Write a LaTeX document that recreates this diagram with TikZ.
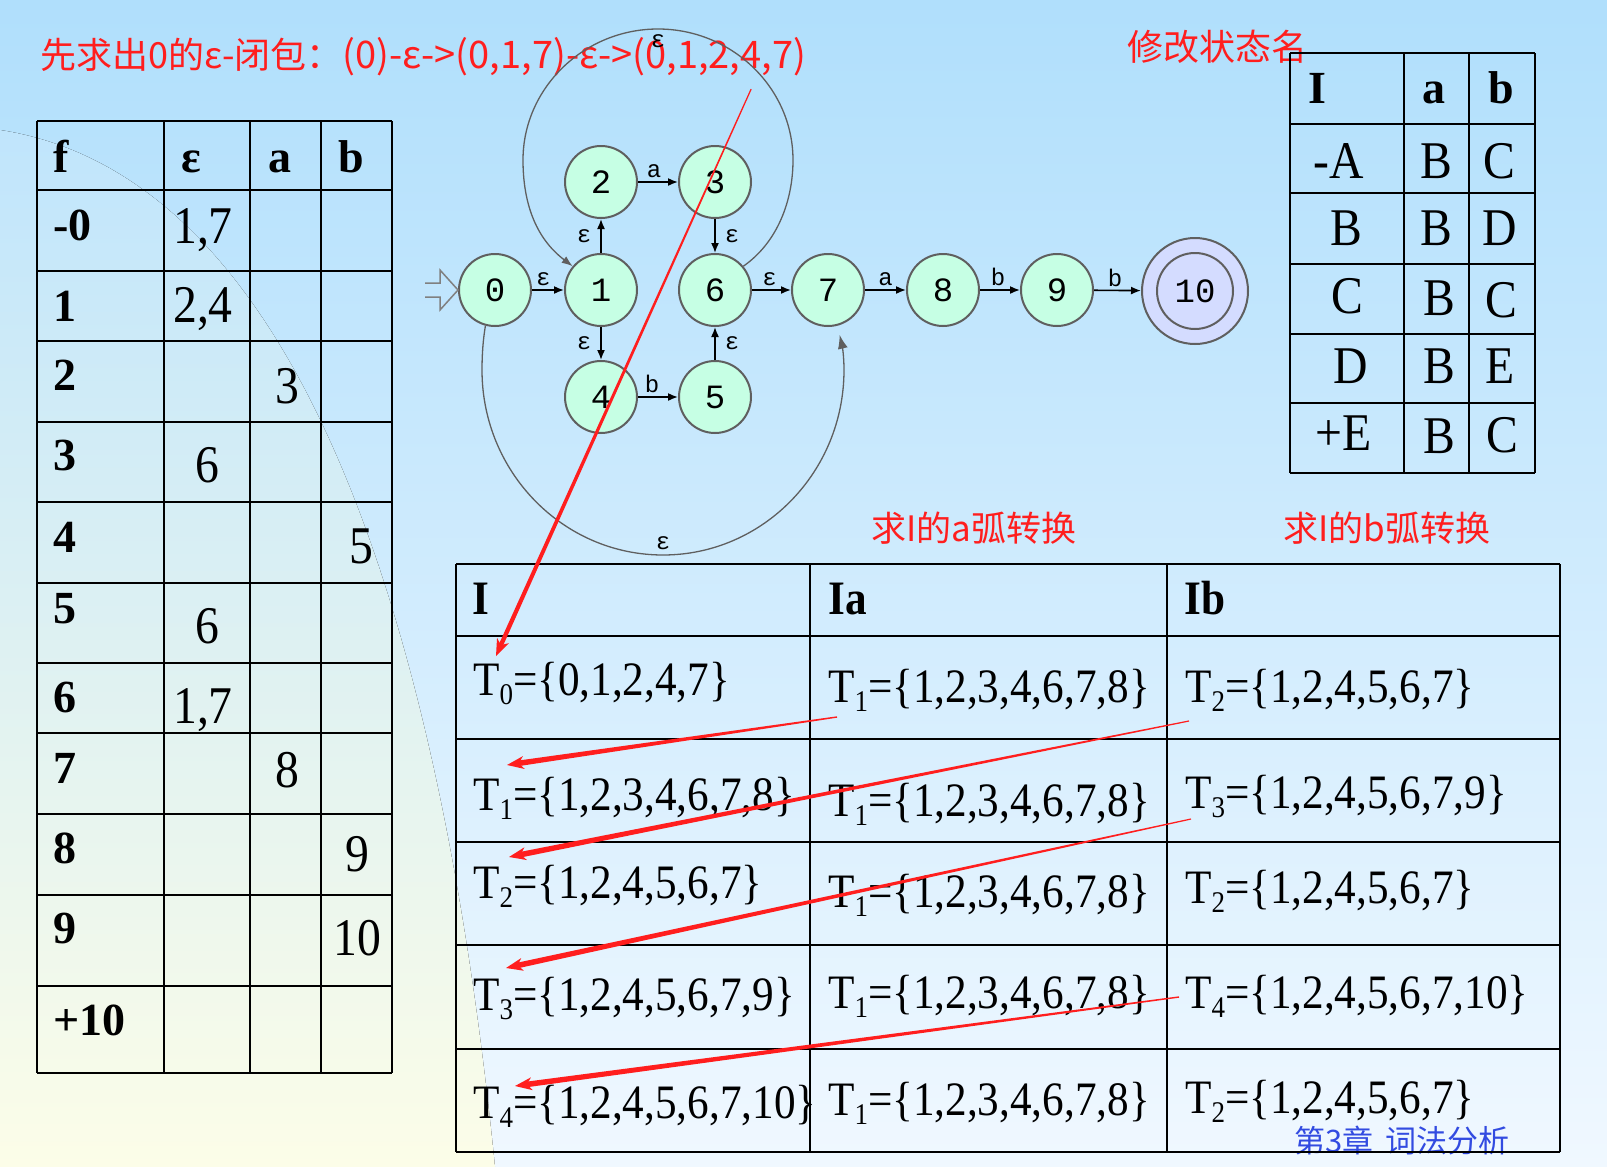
\documentclass[tikz,border=0pt]{standalone}
\usepackage{fontspec}
\setmainfont{Liberation Serif}
\newfontfamily\schmal[FakeStretch=0.9]{Liberation Serif}
\newfontfamily\cjk{Noto Sans CJK SC}
\newfontfamily\jflap{Liberation Mono}
\usetikzlibrary{arrows.meta,calc}

\definecolor{himmel}{RGB}{176,223,252}
\definecolor{himmelmitte}{RGB}{208,236,252}
\definecolor{himmelunten}{RGB}{240,248,255}
\definecolor{wischoben}{RGB}{192,229,252}
\definecolor{wischunten}{RGB}{252,253,232}
\definecolor{zfill}{RGB}{198,255,228}
\definecolor{zrand}{RGB}{95,95,95}
\definecolor{endfill}{RGB}{212,220,255}
\definecolor{rot}{RGB}{255,30,30}
\definecolor{blau}{RGB}{50,75,225}

\tikzset{
  zustand/.style={circle,draw=zrand,line width=2pt,fill=zfill,minimum size=72pt,inner sep=0pt,
    font=\jflap\fontsize{34}{34}\selectfont},
  uebergang/.style={line width=1.6pt,-{Latex[length=10pt,width=8pt]}},
  bogen/.style={line width=1.3pt,draw=zrand},
  marke/.style={font=\jflap\fontsize{24}{24}\selectfont,inner sep=1pt},
  rottext/.style={anchor=west,inner sep=0pt,text=rot,font=\cjk\fontsize{35}{35}\selectfont},
  kopf/.style={anchor=base west,inner sep=0pt,font=\bfseries\fontsize{46}{46}\selectfont},
  wert/.style={anchor=base west,inner sep=0pt,font=\schmal\fontsize{53}{53}\selectfont},
  menge/.style={anchor=base west,inner sep=0pt,font=\schmal\fontsize{48}{48}\selectfont},
  mkopf/.style={anchor=base west,inner sep=0pt,font=\schmal\bfseries\fontsize{48}{48}\selectfont},
  gitter/.style={line width=2.6pt},
  duenn/.style={line width=1.5pt}
}

% T mit tiefgestellter Nummer
\newcommand\Tn[1]{T\raisebox{-9pt}{\fontsize{30}{30}\selectfont#1}}
% roter Pfeil, duenn -> dick
\newcommand\rotpfeil[4]{%
  \coordinate (rpa) at ($(#2)!10pt!(#1)$);
  \coordinate (rpb) at ($(#2)!17pt!(#1)$);
  \fill[rot] ($(#1)!#3!90:(#2)$) -- ($(rpa)!#4!-90:(#1)$) -- ($(rpa)!#4!90:(#1)$) -- ($(#1)!#3!-90:(#2)$) -- cycle;
  \fill[rot] (#2) -- ($(rpb)!6.5pt!90:(#2)$) -- ($(#2)!12pt!(#1)$) -- ($(rpb)!6.5pt!-90:(#2)$) -- cycle;
}

\begin{document}
\begin{tikzpicture}[x=1pt,y=-1pt]
        \useasboundingbox (0,0) rectangle (1607,1167);
        % Hintergrund
        \fill[top color=himmel,middle color=himmelmitte,bottom color=himmelunten] (0,0) rectangle (1607,1167);
        \fill[top color=wischoben,bottom color=wischunten] (0,130) .. controls (260,170) and (430,520) .. (495,1167) -- (0,1167) -- cycle;

        % Ueberschriften
        \node[rottext,font=\cjk\fontsize{36}{36}\selectfont] (titel) at (40,57)
              {先求出0的ε-闭包：\fontsize{38}{38}\selectfont(0)-ε->(0,1,7)-ε->(0,1,2,4,7)};
        \node[rottext,font=\cjk\fontsize{36}{36}\selectfont] (umbenennen) at (1127,47) {修改状态名};
        \node[rottext] (abogen) at (871,528) {求I的a弧转换};
        \node[rottext] (bbogen) at (1283,528) {求I的b弧转换};
        \node[anchor=west,inner sep=0pt,text=blau,font=\cjk\fontsize{31}{31}\selectfont] (kapitel) at (1294,1141) {第3章\hspace{12pt}词法分析};

        % Tabelle links: Gitter
        \draw[gitter] (37,121) -- (392,121) (37,190) -- (392,190) (37,271) -- (392,271)
                      (37,341) -- (392,341) (37,422) -- (392,422) (37,502) -- (392,502)
                      (37,583) -- (392,583) (37,663) -- (392,663) (37,733) -- (392,733)
                      (37,814) -- (392,814) (37,895) -- (392,895) (37,986) -- (392,986)
                      (37,1073) -- (392,1073);
        \draw[gitter] (37,121) -- (37,1073) (164,121) -- (164,1073) (250,121) -- (250,1073)
                      (321,121) -- (321,1073) (392,121) -- (392,1073);
        % Tabelle links: Kopf und Zeilen
        \draw (53,172) node[kopf] (lf) {f};
        \draw (181,172) node[kopf] (leps) {ε};
        \draw (268,172) node[kopf] (la) {a};
        \draw (338,172) node[kopf] (lb) {b};
        \draw (53,240) node[kopf] (z0) {-0};
        \draw (53,321) node[kopf] (z1) {1};
        \draw (53,390) node[kopf] (z2) {2};
        \draw (53,470) node[kopf] (z3) {3};
        \draw (53,552) node[kopf] (z4) {4};
        \draw (53,623) node[kopf] (z5) {5};
        \draw (53,712) node[kopf] (z6) {6};
        \draw (53,783) node[kopf] (z7) {7};
        \draw (53,863) node[kopf] (z8) {8};
        \draw (53,943) node[kopf] (z9) {9};
        \draw (53,1035) node[kopf] (z10) {+10};
        \draw (173,243) node[wert] (w0e) {1,7};
        \draw (173,322) node[wert] (w1e) {2,4};
        \draw (275,403) node[wert] (w2a) {3};
        \draw (195,482) node[wert] (w3e) {6};
        \draw (349,563) node[wert] (w4b) {5};
        \draw (195,643) node[wert] (w5e) {6};
        \draw (173,723) node[wert] (w6e) {1,7};
        \draw (275,787) node[wert] (w7a) {8};
        \draw (345,871) node[wert] (w8b) {9};
        \draw (333,955) node[wert] (w9b) {10};

        % Tabelle rechts
        \draw[gitter] (1290,53) -- (1535,53) (1290,124) -- (1535,124) (1290,193) -- (1535,193)
                      (1290,264) -- (1535,264) (1290,334) -- (1535,334) (1290,403) -- (1535,403)
                      (1290,473) -- (1535,473);
        \draw[gitter] (1290,53) -- (1290,473) (1404,53) -- (1404,473) (1469,53) -- (1469,473)
                      (1535,53) -- (1535,473);
        \draw (1308,103) node[kopf] (ri) {I};
        \draw (1422,103) node[kopf] (ra) {a};
        \draw (1488,103) node[kopf] (rb) {b};
        \draw (1313,178) node[wert] (rA) {-A};
        \draw (1420,178) node[wert] (rAa) {B};
        \draw (1483,178) node[wert] (rAb) {C};
        \draw (1330,245) node[wert] (rB) {B};
        \draw (1420,245) node[wert] (rBa) {B};
        \draw (1482,245) node[wert] (rBb) {D};
        \draw (1331,313) node[wert] (rC) {C};
        \draw (1423,315) node[wert] (rCa) {B};
        \draw (1485,317) node[wert] (rCb) {C};
        \draw (1333,383) node[wert] (rD) {D};
        \draw (1423,383) node[wert] (rDa) {B};
        \draw (1485,383) node[wert] (rDb) {E};
        \draw (1315,450) node[wert] (rE) {+E};
        \draw (1423,453) node[wert] (rEa) {B};
        \draw (1486,452) node[wert] (rEb) {C};

        % Tabelle unten
        \draw[gitter] (456,564) -- (1560,564) (456,636) -- (1560,636) (456,739) -- (1560,739)
                      (456,842) -- (1560,842) (456,945) -- (1560,945) (456,1049) -- (1560,1049)
                      (456,1152) -- (1560,1152);
        \draw[line width=2.2pt] (456,564) -- (456,1152) (1560,564) -- (1560,1152);
        \draw[duenn] (810,564) -- (810,1152) (1167,564) -- (1167,1152);
        \draw (472,614) node[mkopf] (ki) {I};
        \draw (828,614) node[mkopf] (kia) {Ia};
        \draw (1184,614) node[mkopf] (kib) {Ib};
        \draw (473,695) node[menge] (c11) {\Tn{0}=\{0,1,2,4,7\}};
        \draw (828,702) node[menge] (c12) {\Tn{1}=\{1,2,3,4,6,7,8\}};
        \draw (1185,702) node[menge] (c13) {\Tn{2}=\{1,2,4,5,6,7\}};
        \draw (473,810) node[menge] (c21) {\Tn{1}=\{1,2,3,4,6,7,8\}};
        \draw (828,816) node[menge] (c22) {\Tn{1}=\{1,2,3,4,6,7,8\}};
        \draw (1185,808) node[menge] (c23) {\Tn{3}=\{1,2,4,5,6,7,9\}};
        \draw (473,898) node[menge] (c31) {\Tn{2}=\{1,2,4,5,6,7\}};
        \draw (828,907) node[menge] (c32) {\Tn{1}=\{1,2,3,4,6,7,8\}};
        \draw (1185,903) node[menge] (c33) {\Tn{2}=\{1,2,4,5,6,7\}};
        \draw (473,1010) node[menge] (c41) {\Tn{3}=\{1,2,4,5,6,7,9\}};
        \draw (828,1008) node[menge] (c42) {\Tn{1}=\{1,2,3,4,6,7,8\}};
        \draw (1185,1008) node[menge] (c43) {\Tn{4}=\{1,2,4,5,6,7,10\}};
        \draw (473,1118) node[menge] (c51) {\Tn{4}=\{1,2,4,5,6,7,10\}};
        \draw (828,1115) node[menge] (c52) {\Tn{1}=\{1,2,3,4,6,7,8\}};
        \draw (1185,1113) node[menge] (c53) {\Tn{2}=\{1,2,4,5,6,7\}};

        % Automat
        \draw (495,290) node[zustand] (s0) {0};
        \draw (601,290) node[zustand] (s1) {1};
        \draw (601,182) node[zustand] (s2) {2};
        \draw (715,182) node[zustand] (s3) {3};
        \draw (715,290) node[zustand] (s6) {6};
        \draw (601,397) node[zustand] (s4) {4};
        \draw (715,397) node[zustand] (s5) {5};
        \draw (828,290) node[zustand] (s7) {7};
        \draw (943,290) node[zustand] (s8) {8};
        \draw (1057,290) node[zustand] (s9) {9};
        \draw (1195,291) node[zustand,fill=endfill,minimum size=106pt] (s10) {10};
        \draw[line width=2pt,draw=zrand] (s10.center) circle (38);
        % Startpfeil
        \draw[line width=1.5pt,draw=gray] (425,283) -- (440,283) -- (440,270) -- (458,290) -- (440,310) -- (440,297) -- (425,297);
        % Kanten
        \draw[uebergang] (s0) -- node[marke,above=2pt,pos=0.35] {ε} (s1);
        \draw[uebergang] (s1) -- node[marke,left=8pt] {ε} (s2);
        \draw[uebergang] (s2) -- node[marke,above=2pt,pos=0.4] {a} (s3);
        \draw[uebergang] (s3) -- node[marke,right=8pt] {ε} (s6);
        \draw[uebergang] (s1) -- node[marke,left=8pt] {ε} (s4);
        \draw[uebergang] (s4) -- node[marke,above=2pt,pos=0.35] {b} (s5);
        \draw[uebergang] (s5) -- node[marke,right=8pt] {ε} (s6);
        \draw[uebergang] (s6) -- node[marke,above=2pt,pos=0.45] {ε} (s7);
        \draw[uebergang] (s7) -- node[marke,above=2pt,pos=0.5] {a} (s8);
        \draw[uebergang] (s8) -- node[marke,above=2pt,pos=0.45] {b} (s9);
        \draw[uebergang] (s9) -- node[marke,above=2pt,pos=0.45] {b} (s10);
        % Schleife oben 6 -> 1
        \draw[bogen,-{Latex[length=11pt,width=8pt]}] (s6.40) .. controls (778,242) and (793,200) .. (793,160)
              .. controls (793,88) and (732,29) .. (658,29) node[marke,below=4pt] {ε}
              .. controls (584,29) and (523,88) .. (523,160)
              .. controls (523,200) and (534,237) .. (s1.140);
        % Bogen unten 0 -> 7
        \draw[bogen,-{Latex[length=14pt,width=10pt]}] (s0.255) .. controls (483,340) and (482,355) .. (482,370)
              .. controls (482,472) and (563,555) .. (663,555) node[marke,above=4pt] {ε}
              .. controls (763,555) and (844,472) .. (844,370)
              .. controls (844,355) and (842,345) .. ($(s7.285)+(2,9)$);

        % rote Pfeile
        \coordinate (p1a) at ($(titel.east)+(-55,32)$);
        \coordinate (p1e) at ($(c11.base west)+(23,-39)$);
        \rotpfeil{p1a}{p1e}{0.6pt}{2.2pt}
        \coordinate (p2a) at ($(c12.base west)+(9,15)$);
        \coordinate (p2e) at ($(c21.base west)+(34,-45)$);
        \rotpfeil{p2a}{p2e}{0.7pt}{2.8pt}
        \coordinate (p3a) at ($(c13.base west)+(4,19)$);
        \coordinate (p3e) at ($(c31.base west)+(36,-41)$);
        \rotpfeil{p3a}{p3e}{0.6pt}{2.8pt}
        \coordinate (p4a) at ($(c23.base west)+(6,11)$);
        \coordinate (p4e) at ($(c41.base west)+(33,-42)$);
        \rotpfeil{p4a}{p4e}{0.6pt}{2.8pt}
        \coordinate (p5a) at ($(c43.base west)+(-6,-11)$);
        \coordinate (p5e) at ($(c51.base west)+(42,-32)$);
        \rotpfeil{p5a}{p5e}{0.7pt}{2.8pt}
    \end{tikzpicture}
\end{document}
